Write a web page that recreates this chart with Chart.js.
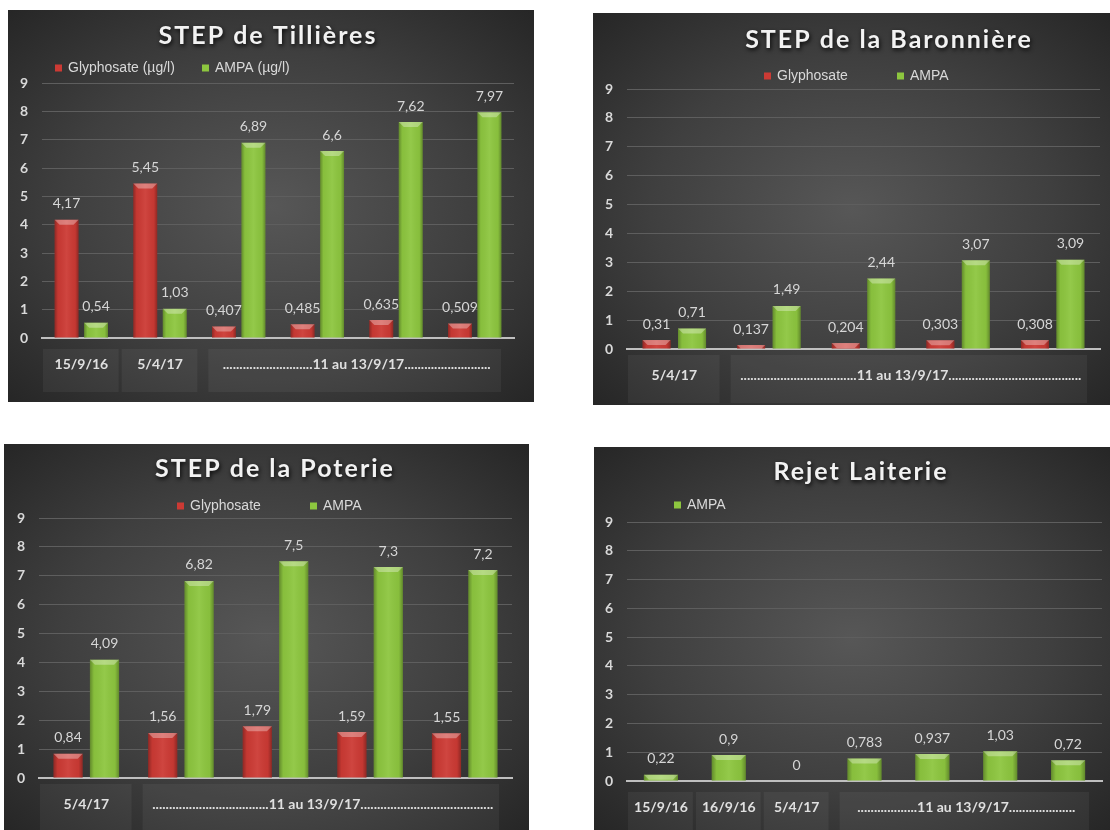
<!DOCTYPE html>
<html lang="fr">
<head>
<meta charset="utf-8">
<title>Glyphosate / AMPA - STEP</title>
<script src="https://cdn.jsdelivr.net/npm/chart.js@4.4.1/dist/chart.umd.min.js"></script>
<style>
  html, body { margin: 0; padding: 0; background: #fff; }
  body { width: 1110px; height: 830px; position: relative; overflow: hidden; }
  .panel {
    position: absolute;
    background: radial-gradient(ellipse at 50% 50%, #575757 0%, #3f3f3f 55%, #262626 100%);
  }
  .panel canvas { display: block; }
</style>
</head>
<body>
<div class="panel" style="left:8px;top:10px;width:526px;height:392px"><canvas id="c1" width="526" height="392"></canvas></div>
<div class="panel" style="left:593px;top:13px;width:517px;height:392px"><canvas id="c2" width="517" height="392"></canvas></div>
<div class="panel" style="left:4px;top:444px;width:525px;height:386px"><canvas id="c3" width="525" height="386"></canvas></div>
<div class="panel" style="left:594px;top:447px;width:516px;height:383px"><canvas id="c4" width="516" height="383"></canvas></div>

<script>
// ---------------------------------------------------------------
//  Données
// ---------------------------------------------------------------
const RED = '#cc3a34';
const GREEN = '#8dc63f';

// STEP de Tillières
const tilDates = ['15/9/16', '5/4/17', '11-13/9/17', '11-13/9/17', '11-13/9/17', '11-13/9/17'];
const tilAxis = ['15/9/16', '5/4/17', '...........................11 au 13/9/17..........................'];
const tilGlyphosate = [4.17, 5.45, 0.407, 0.485, 0.635, 0.509];
const tilAmpa = [0.54, 1.03, 6.89, 6.6, 7.62, 7.97];

// STEP de la Baronnière
const barDates = ['5/4/17', '11-13/9/17', '11-13/9/17', '11-13/9/17', '11-13/9/17'];
const barAxis = ['5/4/17', '...................................11 au 13/9/17........................................'];
const barGlyphosate = [0.31, 0.137, 0.204, 0.303, 0.308];
const barAmpa = [0.71, 1.49, 2.44, 3.07, 3.09];

// STEP de la Poterie
const potDates = ['5/4/17', '11-13/9/17', '11-13/9/17', '11-13/9/17', '11-13/9/17'];
const potAxis = ['5/4/17', '...................................11 au 13/9/17........................................'];
const potGlyphosate = [0.84, 1.56, 1.79, 1.59, 1.55];
const potAmpa = [4.09, 6.82, 7.5, 7.3, 7.2];

// Rejet Laiterie
const laiDates = ['15/9/16', '16/9/16', '5/4/17', '11-13/9/17', '11-13/9/17', '11-13/9/17', '11-13/9/17'];
const laiAxis = ['15/9/16', '16/9/16', '5/4/17', '..................11 au 13/9/17....................'];
const laiAmpa = [0.22, 0.9, 0, 0.783, 0.937, 1.03, 0.72];

// ---------------------------------------------------------------
//  Dessin : titre, légende, cases de l'axe, étiquettes, relief
// ---------------------------------------------------------------
function frNum(v) {
  return String(v).replace('.', ',');
}

// regroupe les dates consécutives identiques -> une case par groupe
function spansOf(dates) {
  const spans = [];
  dates.forEach((d, i) => {
    const last = spans[spans.length - 1];
    if (last && last.key === d) last.to = i;
    else spans.push({ key: d, from: i, to: i });
  });
  return spans;
}

const deco = {
  id: 'deco',
  beforeDatasetsDraw(chart, args, o) {
    const ctx = chart.ctx;
    const x = chart.scales.x;
    const area = chart.chartArea;
    const half = (x.getPixelForValue(1) - x.getPixelForValue(0)) / 2;
    ctx.save();
    spansOf(o.dates).forEach((s, k) => {
      const l = x.getPixelForValue(s.from) - half;
      const r = x.getPixelForValue(s.to) + half;
      const single = s.from === s.to;
      const inL = single ? 1 : 9;
      const inR = single ? 2 : 13;
      ctx.fillStyle = 'rgba(255,255,255,0.05)';
      ctx.fillRect(l + inL, area.bottom + o.boxTop, r - l - inL - inR, o.boxH);
      ctx.fillStyle = '#e0e0e0';
      ctx.font = 'bold 14px Lato';
      ctx.textAlign = 'center';
      ctx.textBaseline = 'middle';
      ctx.fillText(o.axis[k], (l + r) / 2, area.bottom + 26);
    });
    ctx.restore();
  },
  afterDatasetsDraw(chart, args, o) {
    const ctx = chart.ctx;
    ctx.save();
    chart.data.datasets.forEach((ds, di) => {
      const meta = chart.getDatasetMeta(di);
      meta.data.forEach((bar, i) => {
        const p = bar.getProps(['x', 'y', 'base', 'width'], true);
        const h = p.base - p.y;
        const l = p.x - p.width / 2, r = p.x + p.width / 2;
        if (h > 0.5) {
          const g = ctx.createLinearGradient(l, 0, r, 0);
          g.addColorStop(0, 'rgba(0,0,0,0.30)');
          g.addColorStop(0.14, 'rgba(0,0,0,0.04)');
          g.addColorStop(0.5, 'rgba(255,255,255,0.06)');
          g.addColorStop(0.86, 'rgba(0,0,0,0.04)');
          g.addColorStop(1, 'rgba(0,0,0,0.30)');
          ctx.fillStyle = g;
          ctx.fillRect(l, p.y, p.width, h);
          const b = Math.min(5, h);
          ctx.fillStyle = 'rgba(255,255,255,0.32)';
          ctx.beginPath();
          ctx.moveTo(l, p.y);
          ctx.lineTo(r, p.y);
          ctx.lineTo(r - b, p.y + b);
          ctx.lineTo(l + b, p.y + b);
          ctx.closePath();
          ctx.fill();
        }
        ctx.fillStyle = '#d6d6d6';
        ctx.font = '14px Lato';
        ctx.textAlign = 'center';
        ctx.textBaseline = 'middle';
        ctx.fillText(frNum(ds.data[i]), p.x, p.y - 16);
      });
    });
    ctx.restore();
  },
  afterDraw(chart, args, o) {
    const ctx = chart.ctx;
    ctx.save();
    // titre
    ctx.font = 'bold 25px Lato';
    ctx.letterSpacing = '2px';
    ctx.textAlign = 'center';
    ctx.textBaseline = 'middle';
    ctx.shadowColor = 'rgba(0,0,0,0.85)';
    ctx.shadowBlur = 4;
    ctx.shadowOffsetX = 1;
    ctx.shadowOffsetY = 2;
    ctx.fillStyle = '#f2f2f2';
    ctx.fillText(o.title, o.titleX, o.titleY);
    ctx.shadowColor = 'transparent';
    ctx.letterSpacing = '0px';
    // légende
    ctx.font = '14px "Liberation Sans"';
    ctx.textAlign = 'left';
    chart.data.datasets.forEach((ds, di) => {
      const lx = o.legendX[di];
      ctx.fillStyle = ds.backgroundColor;
      ctx.fillRect(lx, o.legendY - 3.5, 7, 7);
      ctx.fillStyle = '#d9d9d9';
      ctx.fillText(ds.label, lx + 13, o.legendY);
    });
    ctx.restore();
  }
};

function makeChart(id, datasets, dates, lay, deco_opts) {
  return new Chart(document.getElementById(id), {
    type: 'bar',
    data: { labels: dates, datasets: datasets },
    plugins: [deco],
    options: {
      responsive: false,
      animation: false,
      events: [],
      layout: { padding: { left: 0, top: lay.top, right: lay.right, bottom: 0 } },
      datasets: { bar: { categoryPercentage: lay.cat, barPercentage: lay.bar } },
      scales: {
        x: {
          grid: { display: false },
          border: { color: '#bfbfbf', width: 2 },
          ticks: { display: false },
          afterFit: (s) => { s.height = lay.bottom; }
        },
        y: {
          min: 0, max: 9,
          ticks: { stepSize: 1, color: '#d9d9d9', font: { family: 'Lato', size: 14, weight: 'bold' }, padding: 14 },
          grid: { color: '#5e5e5e', lineWidth: 1, drawTicks: false },
          border: { display: false },
          afterFit: (s) => { s.width = lay.left; }
        }
      },
      plugins: {
        legend: { display: false },
        title: { display: false },
        tooltip: { enabled: false },
        deco: deco_opts
      }
    }
  });
}

makeChart('c1', [
  { label: 'Glyphosate (µg/l)', data: tilGlyphosate, backgroundColor: RED },
  { label: 'AMPA (µg/l)', data: tilAmpa, backgroundColor: GREEN }
], tilDates,
{ left: 34, right: 20, top: 73, bottom: 64, cat: 0.75, bar: 0.81 },
{ title: 'STEP de Tillières', titleX: 260, titleY: 26, legendX: [47, 194], legendY: 58,
  dates: tilDates, axis: tilAxis, boxTop: 11, boxH: 43 });

makeChart('c2', [
  { label: 'Glyphosate', data: barGlyphosate, backgroundColor: RED },
  { label: 'AMPA', data: barAmpa, backgroundColor: GREEN }
], barDates,
{ left: 34, right: 10, top: 76, bottom: 56, cat: 0.75, bar: 0.79 },
{ title: 'STEP de la Baronnière', titleX: 296, titleY: 27, legendX: [171, 304], legendY: 63,
  dates: barDates, axis: barAxis, boxTop: 6, boxH: 48 });

makeChart('c3', [
  { label: 'Glyphosate', data: potGlyphosate, backgroundColor: RED },
  { label: 'AMPA', data: potAmpa, backgroundColor: GREEN }
], potDates,
{ left: 35, right: 17, top: 74, bottom: 52, cat: 0.77, bar: 0.8 },
{ title: 'STEP de la Poterie', titleX: 271, titleY: 25, legendX: [173, 306], legendY: 62,
  dates: potDates, axis: potAxis, boxTop: 6, boxH: 46 });

makeChart('c4', [
  { label: 'AMPA', data: laiAmpa, backgroundColor: GREEN }
], laiDates,
{ left: 33, right: 8, top: 75, bottom: 49, cat: 0.62, bar: 0.81 },
{ title: 'Rejet Laiterie', titleX: 267, titleY: 25, legendX: [80], legendY: 58,
  dates: laiDates, axis: laiAxis, boxTop: 11, boxH: 38 });
</script>
</body>
</html>
